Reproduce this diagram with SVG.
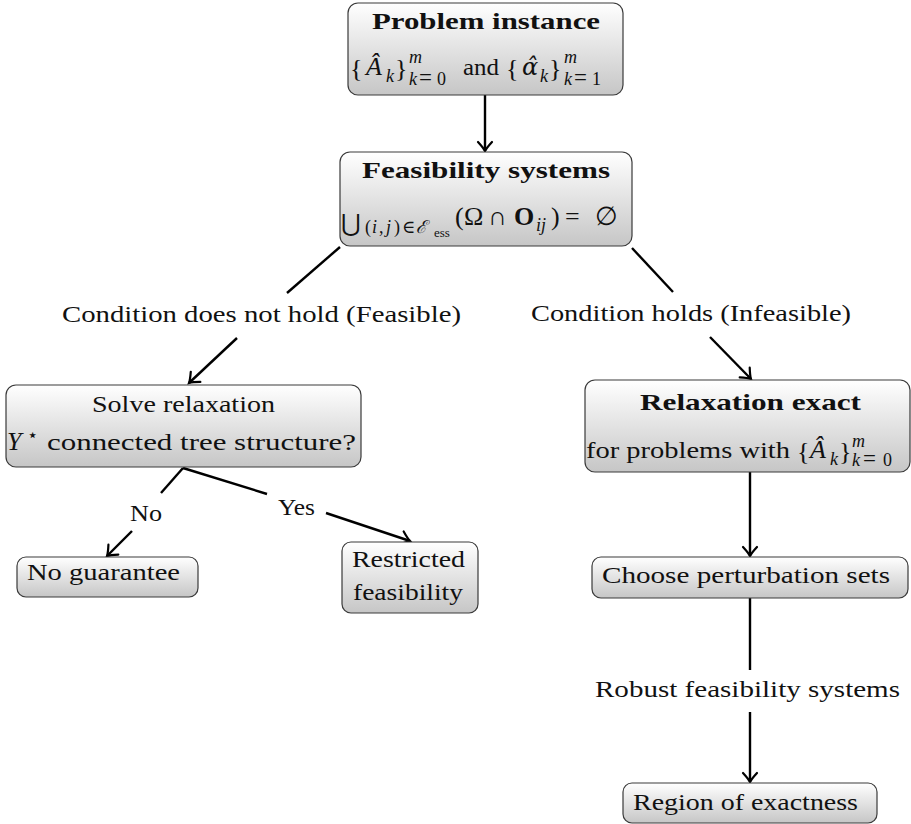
<svg xmlns="http://www.w3.org/2000/svg" width="911" height="824" viewBox="0 0 911 824">
  <defs>
    <linearGradient id="nodeFill" x1="0" y1="0" x2="0" y2="1">
      <stop offset="0" stop-color="#ffffff"/>
      <stop offset="1" stop-color="#c6c6c6"/>
    </linearGradient>
    <marker id="arrow" markerUnits="userSpaceOnUse" viewBox="-12 -9 14 18" markerWidth="14" markerHeight="18" refX="0" refY="0" orient="auto" overflow="visible">
      <path d="M-9,-7 Q-3,-1.5 0,0 Q-3,1.5 -9,7" fill="none" stroke="#000" stroke-width="2.2" stroke-linecap="round"/>
    </marker>
    <style>
      .box { fill: url(#nodeFill); stroke: #3a3a3a; stroke-width: 1.2; }
      .t { font-family: "Liberation Serif", "DejaVu Serif", serif; font-size: 24px; fill: #111; }
      .m { font-size: 26px; }
      .b { font-weight: bold; }
      .i { font-style: italic; }
      .s { font-size: 18px; }
      .ss { font-size: 13px; }
      .eq { font-size: 23px; }
      .acc { font-family: "DejaVu Serif", serif; font-size: 24px; font-style: italic; fill: #111; }
      .edge { fill: none; stroke: #000; stroke-width: 2.4; }
      .tip { marker-end: url(#arrow); }
    </style>
  </defs>

  <!-- connectors and their labels -->
  <g id="connectors">
    <path class="edge tip" d="M485,95 L485,151"/>
    <path class="edge" d="M340,247 L287,293"/>
    <path class="edge tip" d="M237,338 L189,383"/>
    <path class="edge" d="M632,248 L673,292"/>
    <path class="edge tip" d="M710,337 L751,379"/>
    <path class="edge" d="M183,468 L161,493"/>
    <path class="edge tip" d="M132,531 L107,556"/>
    <path class="edge" d="M183,468 L267,494"/>
    <path class="edge tip" d="M326,513 L410,541"/>
    <path class="edge tip" d="M750,472 L750,556"/>
    <path class="edge" d="M750,598 L750,670"/>
    <path class="edge tip" d="M750,712 L750,782"/>
    <text class="t" x="62" y="322" textLength="399" lengthAdjust="spacingAndGlyphs">Condition does not hold (Feasible)</text>
    <text class="t" x="531" y="321" textLength="320" lengthAdjust="spacingAndGlyphs">Condition holds (Infeasible)</text>
    <text class="t" x="130" y="521" textLength="32" lengthAdjust="spacingAndGlyphs">No</text>
    <text class="t" x="278" y="515" textLength="37" lengthAdjust="spacingAndGlyphs">Yes</text>
    <text class="t" x="595" y="697" textLength="305" lengthAdjust="spacingAndGlyphs">Robust feasibility systems</text>
  </g>

  <!-- problem instance -->
  <g id="problem-instance">
    <rect class="box" x="348" y="3" width="275" height="92" rx="10"/>
    <text class="t b" x="372" y="29" textLength="228" lengthAdjust="spacingAndGlyphs">Problem instance</text>
    <text class="t m" x="350" y="77">{</text>
    <text class="t m i" x="366" y="75">Â</text>
    <text class="t s i" x="386" y="82">k</text>
    <text class="t m" x="395" y="77">}</text>
    <text class="t s i" x="409" y="63">m</text>
    <text class="t s" y="85"><tspan class="i" x="409">k</tspan><tspan class="eq" x="419">=</tspan><tspan x="437">0</tspan></text>
    <text class="t" x="463" y="75" textLength="36" lengthAdjust="spacingAndGlyphs">and</text>
    <text class="t m" x="506" y="77">{</text>
    <text class="acc" x="522" y="75">α̂</text>
    <text class="t s i" x="540" y="82">k</text>
    <text class="t m" x="549" y="77">}</text>
    <text class="t s i" x="564" y="63">m</text>
    <text class="t s" y="85"><tspan class="i" x="564">k</tspan><tspan class="eq" x="574">=</tspan><tspan x="592">1</tspan></text>
  </g>

  <!-- feasibility systems -->
  <g id="feasibility-systems">
    <rect class="box" x="340" y="152" width="292" height="94" rx="10"/>
    <text class="t b" x="362" y="178" textLength="248" lengthAdjust="spacingAndGlyphs">Feasibility systems</text>
    <text class="t" x="341" y="231" font-size="36">⋃</text>
    <text class="t s" y="233"><tspan x="365">(</tspan><tspan class="i" x="372">i</tspan><tspan x="379">,</tspan><tspan class="i" x="386">j</tspan><tspan x="394">)</tspan><tspan x="402">∈</tspan><tspan class="i" x="416">ℰ</tspan></text>
    <text class="t ss" x="434" y="237">ess</text>
    <text class="t m" x="455" y="225">(</text>
    <text class="t m" x="464" y="225">Ω</text>
    <text class="t m" x="488" y="225">∩</text>
    <text class="t m b" x="514" y="225">O</text>
    <text class="t s i" x="536" y="231">ij</text>
    <text class="t m" x="551" y="225">)</text>
    <text class="t m" x="565" y="225">=</text>
    <text class="t m" x="595" y="225">∅</text>
  </g>

  <!-- solve relaxation -->
  <g id="solve-relaxation">
    <rect class="box" x="6" y="385" width="355" height="82" rx="10"/>
    <text class="t" x="92" y="412" textLength="183" lengthAdjust="spacingAndGlyphs">Solve relaxation</text>
    <text class="t m i" x="7" y="450">Y</text>
    <text class="t s" x="27" y="441">⋆</text>
    <text class="t" x="47" y="450" textLength="309" lengthAdjust="spacingAndGlyphs">connected tree structure?</text>
  </g>

  <!-- relaxation exact -->
  <g id="relaxation-exact">
    <rect class="box" x="585" y="380" width="325" height="92" rx="10"/>
    <text class="t b" x="640" y="410" textLength="221" lengthAdjust="spacingAndGlyphs">Relaxation exact</text>
    <text class="t" x="586" y="458" textLength="204" lengthAdjust="spacingAndGlyphs">for problems with</text>
    <text class="t m" x="797" y="460">{</text>
    <text class="t m i" x="810" y="458">Â</text>
    <text class="t s i" x="830" y="465">k</text>
    <text class="t m" x="839" y="460">}</text>
    <text class="t s i" x="852" y="447">m</text>
    <text class="t s" y="466"><tspan class="i" x="852">k</tspan><tspan class="eq" x="863">=</tspan><tspan x="883">0</tspan></text>
  </g>

  <!-- no guarantee -->
  <g id="no-guarantee">
    <rect class="box" x="17" y="557" width="181" height="40" rx="9"/>
    <text class="t" x="27" y="580" textLength="153" lengthAdjust="spacingAndGlyphs">No guarantee</text>
  </g>

  <!-- restricted feasibility -->
  <g id="restricted-feasibility">
    <rect class="box" x="342" y="542" width="136" height="71" rx="9"/>
    <text class="t" x="352" y="567" textLength="113" lengthAdjust="spacingAndGlyphs">Restricted</text>
    <text class="t" x="353" y="600" textLength="110" lengthAdjust="spacingAndGlyphs">feasibility</text>
  </g>

  <!-- choose perturbation sets -->
  <g id="choose-perturbation">
    <rect class="box" x="592" y="557" width="316" height="41" rx="9"/>
    <text class="t" x="602" y="583" textLength="288" lengthAdjust="spacingAndGlyphs">Choose perturbation sets</text>
  </g>

  <!-- region of exactness -->
  <g id="region-exactness">
    <rect class="box" x="623" y="783" width="254" height="40" rx="9"/>
    <text class="t" x="633" y="810" textLength="225" lengthAdjust="spacingAndGlyphs">Region of exactness</text>
  </g>
</svg>
